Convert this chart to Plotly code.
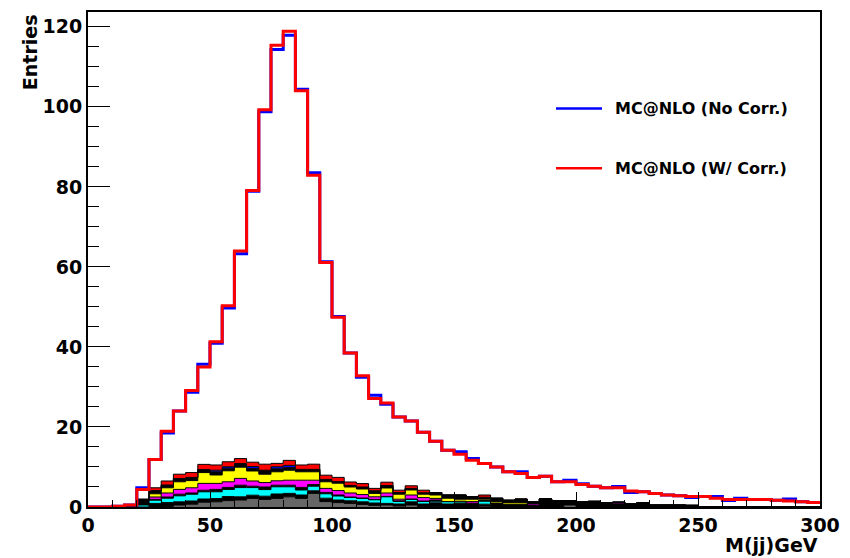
import plotly.graph_objects as go

# ---------------- data (bins of width 5 GeV from 0 to 300) ----------------
bin_edges = list(range(0, 305, 5))

mcnlo_no_corr = [0, 0, 0.2, 0.5, 4.8, 11.9, 18.5, 24.0, 28.7, 35.7,
                 40.9, 49.7, 63.3, 78.9, 98.8, 114.3, 117.9, 104.4, 83.5, 61.3,
                 47.6, 38.5, 32.4, 27.9, 25.7, 22.5, 21.5, 18.7, 16.4, 14.2,
                 13.8, 12.1, 10.9, 10.0, 8.8, 8.8, 7.4, 7.7, 6.3, 6.7,
                 5.8, 5.2, 4.8, 5.1, 3.6, 3.8, 3.4, 3.0, 2.8, 2.4,
                 2.6, 2.6, 1.6, 2.2, 1.9, 1.9, 1.7, 2.0, 1.3, 1.1]

mcnlo_w_corr = [0, 0, 0.2, 0.5, 4.4, 11.9, 18.9, 24.0, 29.1, 35.0,
                41.3, 50.3, 64.0, 79.1, 99.3, 115.4, 118.9, 104.0, 82.9, 61.1,
                47.4, 38.5, 32.8, 27.1, 26.0, 22.5, 21.5, 18.7, 16.4, 14.2,
                13.2, 11.7, 10.9, 10.0, 8.8, 8.4, 7.4, 7.7, 6.3, 6.3,
                5.6, 5.2, 4.8, 4.8, 4.0, 3.8, 3.4, 3.0, 2.8, 2.6,
                2.6, 2.2, 1.9, 1.9, 1.9, 1.9, 1.7, 1.5, 1.3, 1.1]

# stacked background components (bottom to top)
bkg_gray = [0, 0, 0, 0, 0, 0, 0.1, 0.5, 0.7, 1.2,
            1.3, 1.6, 1.75, 2.15, 1.9, 2.15, 2.55, 2.15, 3.4, 1.35,
            1.1, 0.9, 0.65, 0.4, 0.5, 0.25, 0.5, 0.1, 0.15, 0,
            0, 0, 0.2, 0, 0, 0, 0, 0, 0, 0.5,
            0, 0, 0, 0, 0, 0, 0, 0, 0, 0,
            0, 0, 0, 0, 0, 0, 0, 0, 0, 0]

bkg_black1 = [0, 0, 0, 0, 0, 0.9, 1.0, 0.8, 0.8, 0.8,
              0.8, 1.0, 0.8, 0.8, 0.8, 1.1, 0.85, 0.85, 0.65, 0.85,
              0.65, 0.65, 0.65, 0.6, 0.4, 0.5, 0.8, 0.65, 0.9, 0.75,
              0.9, 0.95, 0.5, 1.0, 0.7, 0.7, 0.4, 2.0, 1.5, 1.1,
              1.3, 1.4, 1.1, 0.8, 0.75, 1.1, 0.45, 0.45, 0.45, 0.4,
              0, 0, 0, 0, 0, 0, 0, 0, 0, 0]

bkg_cyan = [0, 0, 0, 0, 0.5, 0.8, 1.1, 1.5, 1.7, 1.8,
            1.7, 1.8, 2.3, 1.9, 1.65, 1.8, 1.65, 1.25, 1.15, 1.1,
            1.0, 0.85, 0.85, 0.8, 1.65, 0.65, 0.6, 0.65, 0.4, 0.6,
            0.4, 0, 0.8, 0, 0, 0, 0, 0, 0, 0,
            0, 0, 0, 0, 0, 0, 0, 0, 0, 0,
            0, 0, 0, 0, 0, 0, 0, 0, 0, 0]

bkg_black2 = [0, 0, 0, 0, 1.4, 0.2, 0.3, 0.4, 0.3, 0.4,
              0.6, 0.5, 0.6, 0.35, 0.65, 0.4, 0.4, 0.65, 0.4, 0.35,
              0.25, 0.1, 0.1, 0.1, 0.1, 0.15, 0.1, 0.1, 0.3, 0,
              0, 0, 0, 0, 0, 0, 0, 0, 0, 0,
              0, 0, 0, 0, 0, 0, 0, 0, 0, 0,
              0, 0, 0, 0, 0, 0, 0, 0, 0, 0]

bkg_magenta = [0, 0, 0, 0, 0, 0.6, 1.0, 1.2, 1.3, 1.7,
               1.5, 1.4, 1.7, 1.3, 1.1, 1.1, 1.25, 1.8, 1.1, 1.0,
               1.1, 1.0, 0.85, 0.65, 0.85, 0.4, 1.0, 0.85, 0.4, 0,
               0.15, 0.4, 0.1, 0, 0, 0, 0.4, 0, 0, 0,
               0, 0, 0, 0.4, 0, 0, 0, 0, 0, 0,
               0, 0, 0, 0, 0, 0, 0, 0, 0, 0]

bkg_yellow = [0, 0, 0, 0, 0, 0.8, 1.3, 1.9, 1.8, 2.7,
              2.1, 2.75, 2.8, 2.5, 2.1, 2.25, 2.5, 2.1, 2.1, 1.65,
              1.85, 1.5, 1.4, 0.85, 1.25, 1.25, 1.25, 0.85, 0.85, 0.85,
              0.5, 0.6, 0.35, 0.4, 0.4, 0.4, 0, 0, 0, 0,
              0, 0, 0, 0, 0, 0, 0, 0, 0, 0,
              0, 0, 0, 0, 0, 0, 0, 0, 0, 0]

bkg_black3 = [0, 0, 0, 0, 0, 0.7, 0.6, 0.8, 0.8, 0.7,
              0.8, 0.65, 0.8, 0.6, 1.0, 0.75, 0.65, 0.6, 0.6, 0.6,
              0.4, 0.4, 0.5, 0.65, 0.6, 0.4, 0.4, 0.35, 0.6, 0.8,
              1.05, 0.65, 0.5, 0.8, 0.6, 0.9, 0.5, 0, 0, 0,
              0, 0, 0, 0, 0, 0, 0, 0, 0, 0,
              0, 0, 0, 0, 0, 0, 0, 0, 0, 0]

bkg_blue = [0, 0, 0, 0, 0, 0.1, 0.1, 0, 0, 0.05,
            0.4, 0.35, 0.1, 0.5, 0, 0.5, 0.55, 0, 0, 0,
            0, 0, 0, 0, 0, 0, 0, 0, 0, 0,
            0, 0, 0, 0, 0, 0, 0, 0, 0, 0,
            0, 0, 0, 0, 0, 0, 0, 0, 0, 0,
            0, 0, 0, 0, 0, 0, 0, 0, 0, 0]

bkg_red = [0, 0, 0, 0, 0, 0.7, 1.0, 1.1, 1.2, 1.3,
           1.3, 1.25, 1.25, 1.1, 1.5, 0.85, 1.25, 1.1, 1.3, 1.05,
           1.05, 0.85, 0.85, 0.6, 0.85, 0.6, 0.65, 0.65, 0, 0,
           0, 0, 0.55, 0, 0, 0, 0, 0, 0, 0,
           0, 0, 0, 0, 0, 0, 0, 0, 0, 0,
           0, 0, 0, 0, 0, 0, 0, 0, 0, 0]

x_ticks = [0, 50, 100, 150, 200, 250, 300]
y_ticks = [0, 20, 40, 60, 80, 100, 120]

# ---------------- figure ----------------
FONT = "DejaVu Sans"


def step(vals):
    # histogram drawn as steps: value repeated at the last edge
    return list(vals) + [vals[-1]]


fig = go.Figure()

stack = [
    (bkg_gray, "#666666"),
    (bkg_black1, "#000000"),
    (bkg_cyan, "#00FFFF"),
    (bkg_black2, "#000000"),
    (bkg_magenta, "#FF00FF"),
    (bkg_yellow, "#FFFF00"),
    (bkg_black3, "#000000"),
    (bkg_blue, "#0000FF"),
    (bkg_red, "#FF0000"),
]
for vals, col in stack:
    fig.add_trace(go.Scatter(
        x=bin_edges, y=step(vals), mode="lines",
        line=dict(color="black", width=1, shape="hv"),
        fillcolor=col, stackgroup="bkg", showlegend=False,
        hoverinfo="skip",
    ))

fig.add_trace(go.Scatter(
    x=bin_edges, y=step(mcnlo_no_corr), mode="lines",
    line=dict(color="#0000FF", width=3, shape="hv"),
    name="MC@NLO (No Corr.)", showlegend=False,
))
fig.add_trace(go.Scatter(
    x=bin_edges, y=step(mcnlo_w_corr), mode="lines",
    line=dict(color="#FF0000", width=3, shape="hv"),
    name="MC@NLO (W/ Corr.)", showlegend=False,
))

axis_common = dict(
    showline=True, linecolor="black", linewidth=2, mirror=True,
    showgrid=False, zeroline=False,
    ticks="inside", tickcolor="black", tickwidth=1,
    tickfont=dict(family=FONT, size=19, color="black", weight="bold"),
)

fig.update_xaxes(
    range=[0, 300], tickmode="array", tickvals=x_ticks,
    ticklen=15,
    minor=dict(ticks="inside", dtick=10, ticklen=7, tickcolor="black",
               tickwidth=1, showgrid=False),
    **axis_common,
)
fig.update_yaxes(
    range=[0, 123.7], tickmode="array", tickvals=y_ticks,
    ticklen=22,
    minor=dict(ticks="inside", dtick=5, ticklen=11, tickcolor="black",
               tickwidth=1, showgrid=False),
    **axis_common,
)

# axis titles (ROOT style: at the ends of the axes)
fig.add_annotation(text="Entries", xref="paper", yref="paper",
                   x=-0.079, y=1.0, xanchor="center", yanchor="top",
                   textangle=-90, showarrow=False,
                   font=dict(family=FONT, size=19, color="black", weight="bold"))
fig.add_annotation(text="M(jj)GeV", xref="paper", yref="paper",
                   x=1.0, y=-0.0765, xanchor="right", yanchor="middle",
                   showarrow=False,
                   font=dict(family=FONT, size=19, color="black", weight="bold"))

# legend (no border)
legend_items = [("MC@NLO (No Corr.)", "#0000FF", 0.8048),
                ("MC@NLO (W/ Corr.)", "#FF0000", 0.6841)]
for label, col, ly in legend_items:
    fig.add_shape(type="line", xref="paper", yref="paper",
                  x0=0.6393, x1=0.7022, y0=ly, y1=ly,
                  line=dict(color=col, width=2.5))
    fig.add_annotation(text=label, xref="paper", yref="paper",
                       x=0.7172, y=ly, xanchor="left", yanchor="middle",
                       showarrow=False,
                       font=dict(family=FONT, size=16, color="black", weight="bold"))

fig.update_layout(
    width=850, height=558,
    margin=dict(l=88, r=30, t=10, b=51),
    paper_bgcolor="white", plot_bgcolor="white",
    showlegend=False,
)

fig.write_html("out.html")
